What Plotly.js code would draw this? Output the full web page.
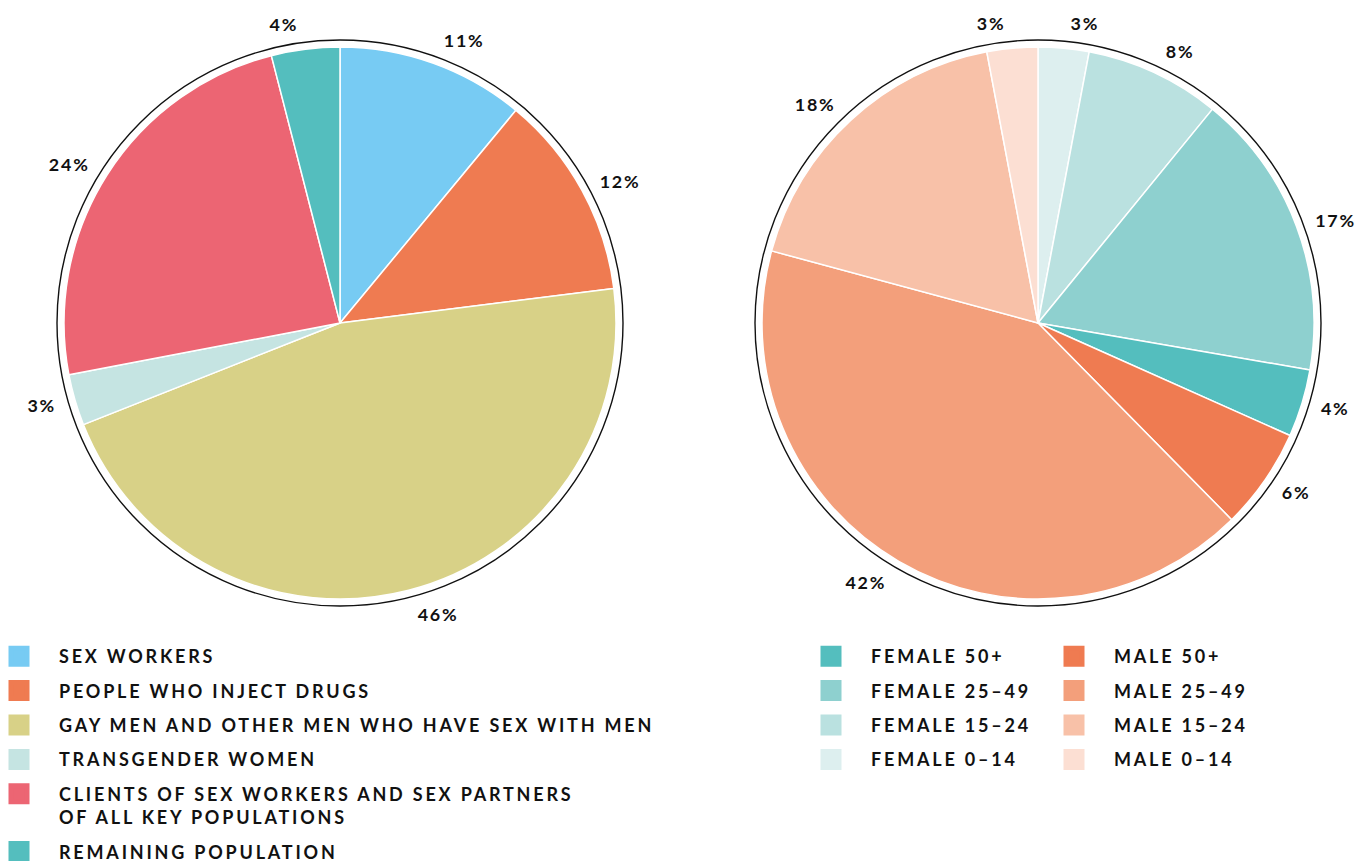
<!DOCTYPE html>
<html>
<head>
<meta charset="utf-8">
<script src="https://cdn.plot.ly/plotly-3.0.1.min.js"></script>
<style>
  html, body { margin: 0; padding: 0; background: #fff; }
  #chart { width: 1362px; height: 861px; }
  text.legendtext, text[style*="font-size: 18px"] { letter-spacing: 2.8px; }
  text[style*="font-size: 17.9px"] { letter-spacing: 1.8px; }
</style>
</head>
<body>
<div id="chart"></div>
<script>
// ---- data ----
const leftCategories = [
  'SEX WORKERS',
  'PEOPLE WHO INJECT DRUGS',
  'GAY MEN AND OTHER MEN WHO HAVE SEX WITH MEN',
  'TRANSGENDER WOMEN',
  'CLIENTS OF SEX WORKERS AND SEX PARTNERS<br>OF ALL KEY POPULATIONS',
  'REMAINING POPULATION'
];
const leftValues = [11, 12, 46, 3, 24, 4];
const leftColors = ['#77CBF3', '#EF7B51', '#D8D187', '#C5E4E2', '#EC6573', '#54BEBE'];

const rightCategories = [
  'FEMALE 0–14', 'FEMALE 15–24', 'FEMALE 25–49', 'FEMALE 50+',
  'MALE 50+', 'MALE 25–49', 'MALE 15–24', 'MALE 0–14'
];
const rightValues = [3, 8, 17, 4, 6, 42, 18, 3];
const rightColors = ['#DDEFEF', '#BAE1E0', '#8ED0CF', '#54BEBE',
                     '#EF7B51', '#F39F7B', '#F8C1A8', '#FCDFD3'];
const femaleLegendOrder = [3, 2, 1, 0];
const maleLegendOrder = [4, 5, 6, 7];

// ---- layout helpers ----
const W = 1362, H = 861;
function dom(cx, cy, r) {
  return { x: [(cx - r) / W, (cx + r) / W], y: [1 - (cy + r) / H, 1 - (cy - r) / H] };
}
const FONT = 'Lato, "Open Sans", sans-serif';
const leftC = [340, 323], rightC = [1038, 323];
const R_PIE = 276, R_RING = 283, R_LABEL = 290;

function piesFor(center, labels, values, colors) {
  const ring = {
    type: 'pie', values: [1], labels: ['ring'], sort: false,
    domain: dom(center[0], center[1], R_RING),
    marker: { colors: ['#ffffff'], line: { color: '#111111', width: 1.4 } },
    textinfo: 'none', hoverinfo: 'skip', showlegend: false
  };
  const main = {
    type: 'pie', values: values, labels: labels, sort: false, direction: 'clockwise', rotation: 0,
    domain: dom(center[0], center[1], R_PIE),
    marker: { colors: colors, line: { color: '#ffffff', width: 1.5 } },
    textinfo: 'none', hoverinfo: 'label+value', showlegend: false
  };
  const text = {
    type: 'pie', values: values, labels: labels.map(l => l + ' '), sort: false, direction: 'clockwise', rotation: 0,
    domain: dom(center[0], center[1], R_LABEL),
    marker: { colors: labels.map(() => 'rgba(0,0,0,0)'), line: { width: 0 } },
    textposition: 'outside', texttemplate: '%{value}%',
    outsidetextfont: { family: FONT, size: 17.9, color: '#111111', weight: 700 },
    hoverinfo: 'skip', showlegend: false
  };
  return [ring, main, text];
}

function legendTrace(name, color, legendId) {
  return {
    type: 'scatter', mode: 'markers', x: [null], y: [null], name: name,
    legend: legendId, legendgroup: legendId + name,
    marker: { symbol: 'square', size: 16, color: color, line: { color: color, width: 5 } },
    hoverinfo: 'skip'
  };
}

const traces = []
  .concat(piesFor(leftC, leftCategories, leftValues, leftColors))
  .concat(piesFor(rightC, rightCategories, rightValues, rightColors));

leftCategories.forEach((c, i) => traces.push(legendTrace(c, leftColors[i], 'legend')));
femaleLegendOrder.forEach(i => traces.push(legendTrace(rightCategories[i], rightColors[i], 'legend2')));
maleLegendOrder.forEach(i => traces.push(legendTrace(rightCategories[i], rightColors[i], 'legend3')));

function legendCfg(leftPx, topPx) {
  return {
    x: leftPx / W, y: 1 - topPx / H, xanchor: 'left', yanchor: 'top',
    orientation: 'v', itemwidth: 70, tracegroupgap: 8, traceorder: 'grouped',
    valign: 'top', bgcolor: 'rgba(0,0,0,0)', borderwidth: 0,
    font: { family: FONT, size: 18, color: '#111111', weight: 700 },
    itemclick: false, itemdoubleclick: false
  };
}

const layout = {
  width: W, height: H,
  margin: { l: 0, r: 0, t: 0, b: 0, pad: 0, autoexpand: false },
  paper_bgcolor: '#ffffff', plot_bgcolor: 'rgba(0,0,0,0)',
  xaxis: { visible: false, range: [0, 1], fixedrange: true },
  yaxis: { visible: false, range: [0, 1], fixedrange: true },
  showlegend: true,
  legend: legendCfg(-21, 638),
  legend2: legendCfg(791, 638),
  legend3: legendCfg(1034, 638),
  font: { family: FONT }
};

Plotly.newPlot('chart', traces, layout, { staticPlot: true, displayModeBar: false });
</script>
</body>
</html>
